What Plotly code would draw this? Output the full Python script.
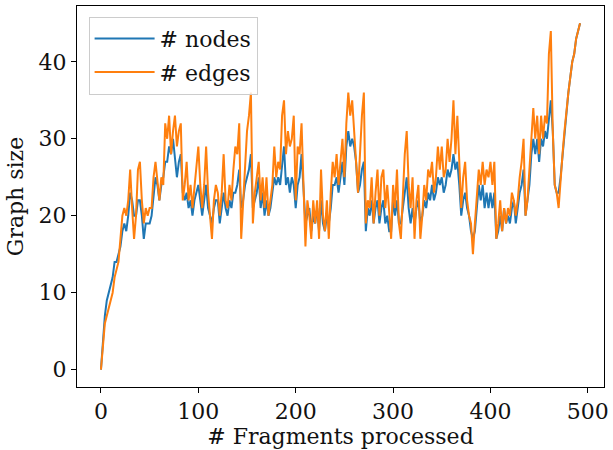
import plotly.graph_objects as go

fragments = list(range(0, 493, 2))

nodes = [
    0, 4, 7, 9, 10, 11, 12, 14, 14, 15,
    16, 18, 19, 18, 20, 23, 22, 20, 20, 22,
    22, 20, 17, 19, 19, 19, 20, 23, 25, 24,
    22, 24, 25, 27, 27, 29, 28, 30, 27, 25,
    27, 28, 23, 22, 23, 21, 22, 20, 22, 23,
    24, 22, 20, 22, 24, 21, 20, 19, 21, 22,
    22, 19, 21, 23, 21, 20, 22, 21, 23, 23,
    24, 26, 21, 22, 24, 25, 26, 28, 21, 22,
    23, 25, 21, 23, 20, 22, 20, 21, 23, 25,
    24, 25, 24, 27, 29, 24, 25, 23, 25, 24,
    21, 24, 25, 28, 23, 19, 20, 21, 18, 20,
    19, 21, 18, 22, 19, 18, 20, 19, 21, 24,
    24, 25, 23, 25, 27, 24, 29, 31, 29, 30,
    29, 27, 23, 24, 26, 27, 18, 21, 20, 22,
    19, 21, 22, 19, 21, 22, 19, 20, 18, 18,
    22, 20, 22, 19, 19, 21, 23, 25, 21, 19,
    21, 19, 21, 22, 19, 20, 22, 21, 23, 22,
    24, 22, 23, 25, 24, 25, 23, 24, 26, 25,
    26, 28, 26, 27, 24, 20, 22, 23, 21, 20,
    18, 17, 18, 21, 24, 22, 24, 21, 23, 21,
    23, 21, 23, 17, 18, 20, 18, 21, 19, 20,
    19, 21, 22, 19, 21, 23, 24, 26, 20, 22,
    24, 28, 30, 28, 30, 27, 30, 29, 31, 30,
    33, 35, 31, 24, 23, 23, 25, 28, 31, 34,
    36, 38, 40, 41, 43, 44, 45,
]

edges = [
    0, 3, 6, 7, 8, 9, 10, 12, 13, 14,
    17, 20, 21, 20, 22, 26, 21, 17, 20, 26,
    27, 22, 19, 21, 20, 21, 21, 25, 27, 24,
    22, 25, 24, 32, 30, 33, 28, 31, 33, 29,
    31, 32, 22, 24, 27, 22, 24, 21, 24, 26,
    29, 24, 21, 24, 29, 23, 20, 17, 22, 24,
    23, 20, 23, 28, 22, 21, 24, 22, 26, 29,
    28, 32, 17, 22, 27, 31, 33, 36, 19, 23,
    25, 27, 22, 25, 21, 25, 20, 22, 24, 29,
    25, 27, 26, 33, 35, 28, 31, 29, 30, 33,
    22, 29, 28, 32, 25, 16, 22, 20, 17, 22,
    19, 22, 17, 26, 20, 18, 22, 17, 23, 27,
    25, 28, 24, 27, 30, 25, 32, 36, 33, 35,
    31, 27, 23, 28, 33, 36, 19, 22, 21, 25,
    19, 23, 26, 20, 25, 26, 21, 24, 20, 17,
    24, 21, 26, 19, 17, 22, 28, 31, 24, 21,
    25, 17, 22, 24, 17, 20, 24, 22, 26, 25,
    27, 23, 25, 29, 26, 29, 25, 26, 30, 27,
    30, 35, 28, 33, 26, 21, 25, 27, 22, 20,
    19, 15, 19, 22, 26, 24, 27, 24, 26, 25,
    27, 24, 27, 17, 19, 22, 18, 21, 19, 21,
    20, 23, 22, 20, 22, 25, 27, 30, 20, 22,
    26, 31, 34, 30, 33, 28, 33, 30, 33, 32,
    41, 44, 31, 24, 23, 21, 25, 28, 31, 34,
    36, 38, 40, 41, 43, 44, 45,
]

series_names = ["# nodes", "# edges"]
series_colors = ["#1f77b4", "#ff7f0e"]

x_ticks = [0, 100, 200, 300, 400, 500]
y_ticks = [0, 10, 20, 30, 40]

FONT = "DejaVu Serif"
FS = 22

fig = go.Figure()
for name, vals, col in zip(series_names, [nodes, edges], series_colors):
    fig.add_trace(go.Scatter(x=fragments, y=vals, mode="lines", name=name,
                             legendgroup=name,
                             line=dict(color=col, width=2)))

axis_common = dict(showline=True, mirror=True, linecolor="black", linewidth=1,
                   ticks="outside", ticklen=5, tickcolor="black", tickwidth=1,
                   showgrid=False, zeroline=False, ticklabeloverflow="allow",
                   tickfont=dict(family=FONT, size=FS, color="#111"))

fig.update_layout(
    width=613, height=450,
    margin=dict(l=77, r=4, t=6, b=63),
    paper_bgcolor="white", plot_bgcolor="white",
    font=dict(family=FONT, size=FS, color="#111"),
    xaxis=dict(range=[-24.6, 516.6], tickvals=x_ticks,
               title=dict(text="# Fragments processed", font=dict(family=FONT, size=FS), standoff=0),
               **axis_common),
    yaxis=dict(range=[-2.25, 47.25], tickvals=y_ticks,
               title=dict(text="Graph size", font=dict(family=FONT, size=FS), standoff=8),
               **axis_common),
    legend=dict(x=0.022, y=0.972, xanchor="left", yanchor="top",
                bgcolor="rgba(255,255,255,0.8)", bordercolor="#cccccc", borderwidth=1,
                itemwidth=60,
                font=dict(family=FONT, size=FS, color="#111"), tracegroupgap=2),
    showlegend=True,
)

fig.write_html("out.html", config={"displayModeBar": False},
               post_script="document.body.style.margin='0px';")
